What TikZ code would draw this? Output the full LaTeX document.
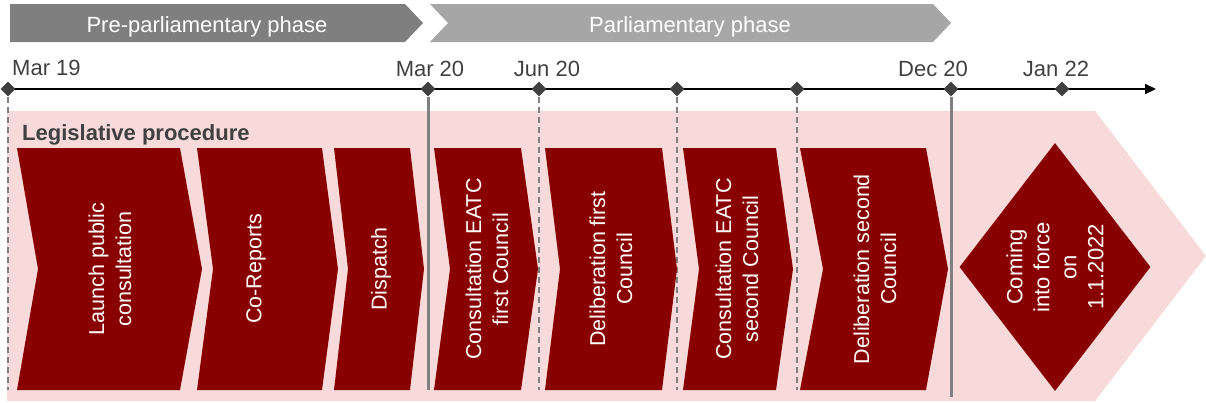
\documentclass[tikz,border=0pt]{standalone}
\usepackage{fontspec}
\setmainfont{Liberation Sans}
\usetikzlibrary{shapes.geometric,arrows.meta}
\definecolor{legred}{RGB}{136,0,0}
\definecolor{legpink}{RGB}{248,218,218}
\definecolor{phasedark}{RGB}{127,127,127}
\definecolor{phaselight}{RGB}{166,166,166}
\definecolor{markgray}{RGB}{64,64,64}
\definecolor{gridgray}{RGB}{128,128,128}
\tikzset{
  chev/.style={fill=legred},
  steptext/.style={rotate=90, text=white, align=center, inner sep=0, font=\fontsize{21.5}{27}\selectfont},
  datelabel/.style={anchor=base, inner sep=0, text=markgray, font=\fontsize{22}{26}\selectfont},
  datemark/.style={diamond, fill=markgray, minimum size=15, inner sep=0},
  phaselabel/.style={anchor=base, inner sep=0, text=white, font=\fontsize{22}{26}\selectfont},
  soft/.style={draw=gridgray, line width=1.5, dash pattern=on 6pt off 4pt},
  hard/.style={draw=gridgray, line width=3},
}

\begin{document}
\begin{tikzpicture}[x=1pt,y=-1pt]
\useasboundingbox (0,0) rectangle (1206,402);
% phases
\fill[phasedark] (10,4) -- (405,4) -- (423,23) -- (405,42) -- (10,42) -- cycle;
\fill[phaselight] (430,4) -- (933,4) -- (951,23) -- (933,42) -- (430,42) -- (448,23) -- cycle;
\node[phaselabel] (pre) at (207,32) {Pre-parliamentary phase};
\node[phaselabel] (parl) at (690,32) {Parliamentary phase};

% background of the procedure
\fill[legpink] (7,111) -- (1095,111) -- (1206,256) -- (1095,401) -- (7,401) -- cycle;
\node[datelabel, anchor=base west, font=\bfseries\fontsize{22}{26}\selectfont] (legis) at (22,140) {Legislative procedure};

% time axis
\coordinate (t0) at (8,89);
\coordinate (tend) at (1156,89);
\coordinate (low) at (0,390);
\coordinate (lowr) at (0,397);
\draw[line width=2, -{Triangle[length=11pt,width=10pt]}] (t0) -- (tend);
\node[datemark] (m19) at (8,89) {};
\node[datemark] (m20) at (428,89) {};
\node[datemark] (j20) at (539,89) {};
\node[datemark] (s1) at (677,89) {};
\node[datemark] (s2) at (797,89) {};
\node[datemark] (d20) at (951,89) {};
\node[datemark] (j22) at (1062,89) {};
\node[datelabel, anchor=base west] (l19) at (12,75) {Mar 19};
\node[datelabel] (l20) at (430,76) {Mar 20};
\node[datelabel] (lj20) at (547,76) {Jun 20};
\node[datelabel] (ld20) at (933,76) {Dec 20};
\node[datelabel] (lj22) at (1056,76) {Jan 22};

\draw[soft] (m19) -- (m19 |- low);
\draw[hard] (m20) -- (m20 |- low);
\draw[soft] (j20) -- (j20 |- low);
\draw[soft] (s1) -- (s1 |- low);
\draw[soft] (s2) -- (s2 |- low);
\draw[hard] (d20) -- (d20 |- lowr);

% steps
\fill[chev] (17,148) -- (180,148) -- (202,269) -- (180,390) -- (17,390) -- (38,269) -- cycle;
\node[steptext] (launch) at (110,269) {Launch public\\consultation};
\fill[chev] (197,148) -- (322,148) -- (338,269) -- (322,390) -- (197,390) -- (213,269) -- cycle;
\node[steptext] (coreports) at (256,269) {Co-Reports};
\fill[chev] (334,148) -- (410,148) -- (424,269) -- (410,390) -- (334,390) -- (348,269) -- cycle;
\node[steptext] (dispatch) at (381,269) {Dispatch};
\fill[chev] (434,148) -- (521,148) -- (538,269) -- (521,390) -- (434,390) -- (450,269) -- cycle;
\node[steptext] (eatc1) at (487,269) {Consultation EATC\\first Council};
\fill[chev] (545,148) -- (662,148) -- (677,269) -- (662,390) -- (545,390) -- (560,269) -- cycle;
\node[steptext] (delib1) at (611,269) {Deliberation first\\Council};
\fill[chev] (683,148) -- (776,148) -- (793,269) -- (776,390) -- (683,390) -- (699,269) -- cycle;
\node[steptext] (eatc2) at (737,269) {Consultation EATC\\second Council};
\fill[chev] (800,148) -- (926,148) -- (948,269) -- (926,390) -- (800,390) -- (823,269) -- cycle;
\node[steptext] (delib2) at (875,269) {Deliberation second\\Council};

% coming into force
\node[diamond, fill=legred, minimum width=191, minimum height=248, inner sep=0] (force) at (1055,267) {};
\node[steptext, font=\fontsize{22}{27}\selectfont] (forcetext) at (force) {Coming\\into force\\on\\1.1.2022};
\end{tikzpicture}
\end{document}
